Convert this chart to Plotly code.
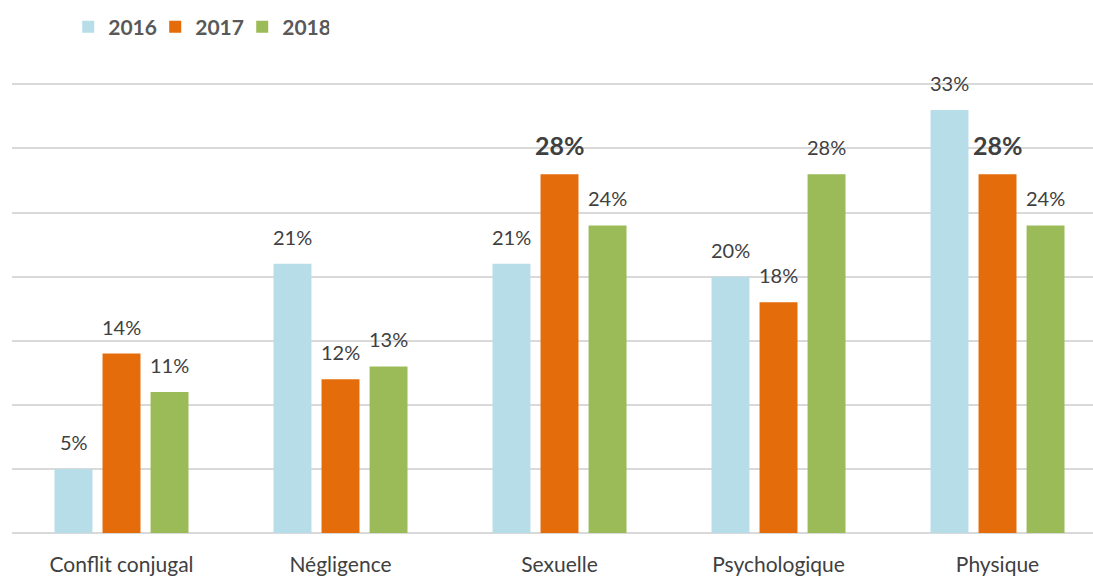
import plotly.graph_objects as go

categories = ["Conflit conjugal", "Négligence", "Sexuelle", "Psychologique", "Physique"]
years = ["2016", "2017", "2018"]
values_2016 = [5, 21, 21, 20, 33]
values_2017 = [14, 12, 28, 18, 28]
values_2018 = [11, 13, 24, 28, 24]
highlight_2017 = [False, False, True, False, True]

colors = ["#B7DEE8", "#E46C0A", "#9BBB59"]
series = [values_2016, values_2017, values_2018]
highlights = [[False] * 5, highlight_2017, [False] * 5]

FONT = "Lato, Open Sans, sans-serif"
fig = go.Figure()
for yr, vals, col in zip(years, series, colors):
    fig.add_trace(go.Bar(name=yr, x=categories, y=vals, marker_color=col,
                         marker_line_width=0))

offsets = [-48, 0, 48]
annotations = []
for vals, hl, off in zip(series, highlights, offsets):
    for cat, v, h in zip(categories, vals, hl):
        annotations.append(dict(
            x=cat, y=v, xref="x", yref="y", xshift=off, yshift=13 if not h else 12,
            text=(f"<b>{v}%</b>" if h else f"{v}%"), showarrow=False,
            yanchor="bottom", valign="bottom",
            font=dict(family=FONT, size=25 if h else 20, color="#404040")))

fig.update_layout(
    width=1093, height=577,
    margin=dict(l=12, r=0, t=78, b=44, autoexpand=False),
    plot_bgcolor="white", paper_bgcolor="white",
    barmode="group", bargap=0.342, bargroupgap=0.21,
    showlegend=True,
    legend=dict(orientation="h", x=0.052, y=1 - 27 / 577, xref="paper", yref="container",
                xanchor="left", yanchor="middle",
                font=dict(family=FONT, size=21, color="#595959", weight="bold"),
                itemwidth=30, traceorder="normal", entrywidth=42, entrywidthmode="pixels"),
    annotations=annotations,
    font=dict(family=FONT),
)
fig.update_xaxes(range=[-0.5, 4.436], showgrid=False, showline=False, automargin=False,
                 tickfont=dict(family=FONT, size=21, color="#404040"), ticks="",
                 ticklabelstandoff=17)
fig.update_yaxes(range=[0, 35.5], dtick=5, showgrid=True, gridcolor="#D9D9D9", gridwidth=1.5,
                 showticklabels=False, zeroline=True, zerolinecolor="#D9D9D9", zerolinewidth=1.5,
                 showline=False, automargin=False)
fig.write_html("out.html", config={"displayModeBar": False},
               post_script="document.body.style.margin='0px';")
